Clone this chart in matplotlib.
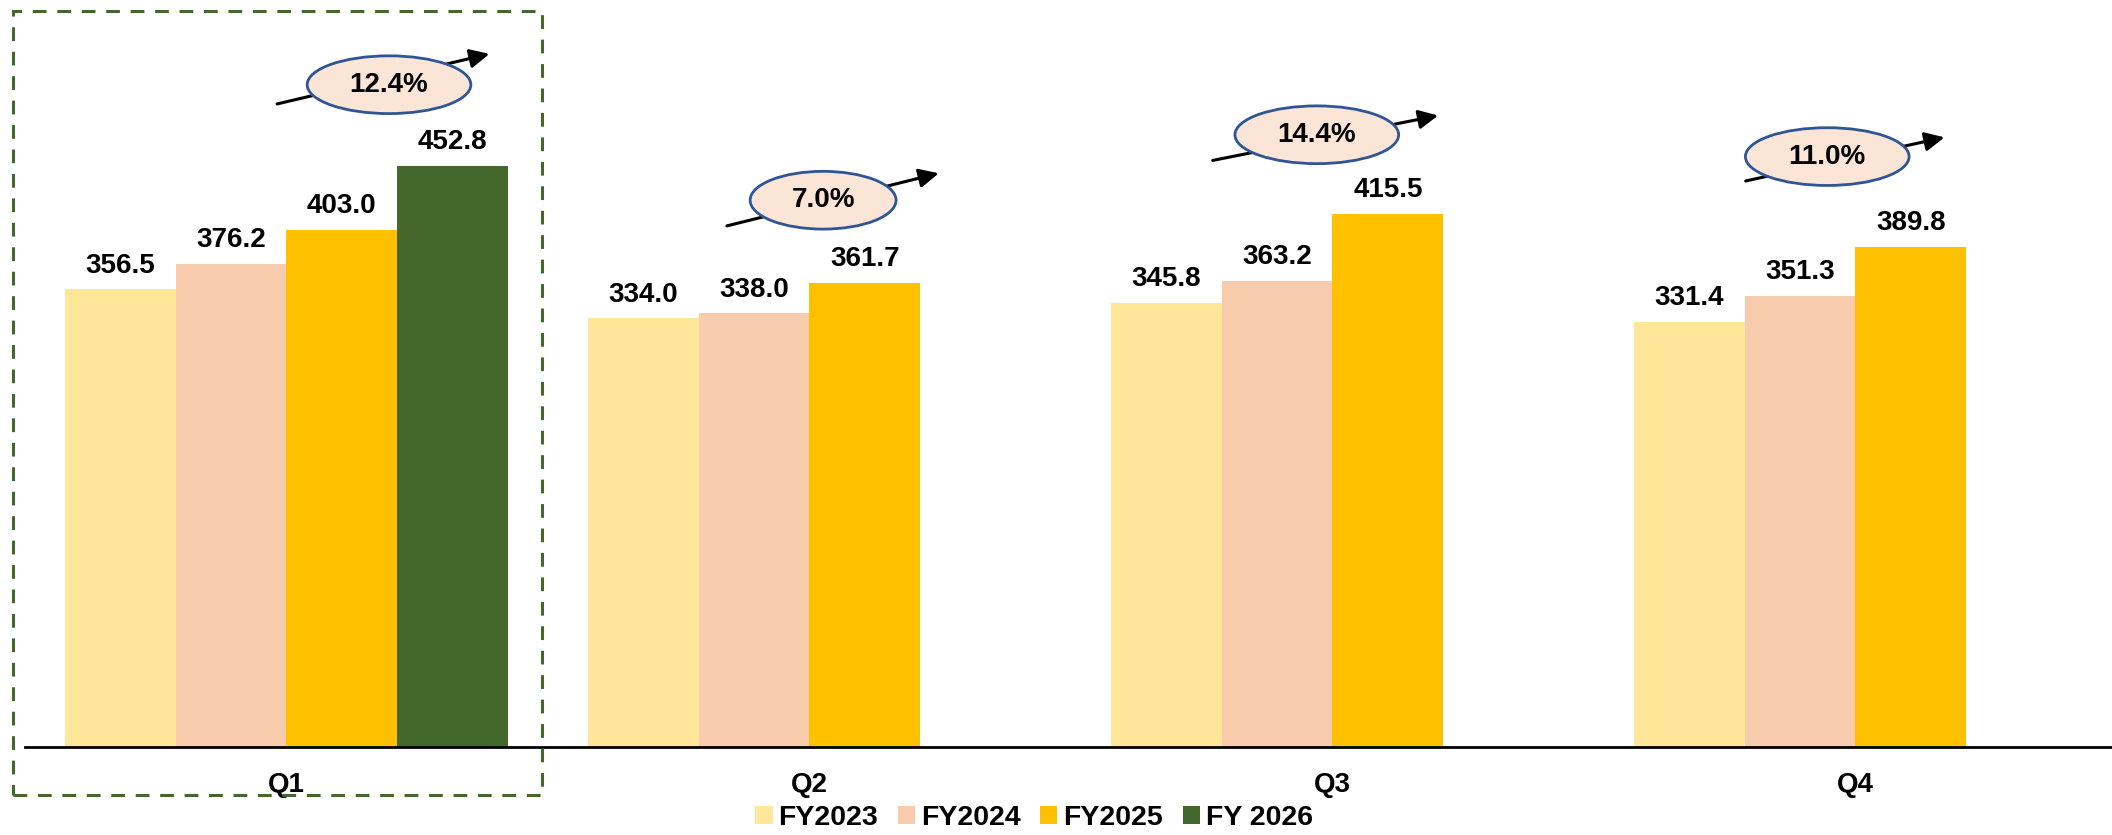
import matplotlib.pyplot as plt
import numpy as np
from matplotlib.patches import Ellipse, Rectangle

plt.rcParams['font.family'] = ['Liberation Sans', 'DejaVu Sans']

# Data
quarters = ["Q1", "Q2", "Q3", "Q4"]
series_names = ["FY2023", "FY2024", "FY2025", "FY 2026"]
fy2023 = [356.5, 334.0, 345.8, 331.4]
fy2024 = [376.2, 338.0, 363.2, 351.3]
fy2025 = [403.0, 361.7, 415.5, 389.8]
fy2026 = [452.8, np.nan, np.nan, np.nan]
growth = ["12.4%", "7.0%", "14.4%", "11.0%"]

colors = ["#FFE699", "#F8CBAD", "#FFC000", "#44682C"]

# growth badge layout (data coords): centre, width, arrow tail, arrow head
badge_x = [0.196, 1.026, 1.970, 2.946]
badge_y = [516, 426, 477, 460]
badge_w = [0.313, 0.279, 0.313, 0.313]
badge_h = 45
arrow_tail = [(-0.018, 501), (0.842, 406), (1.771, 457), (2.790, 441)]
arrow_head = [(0.388, 540), (1.247, 447), (2.202, 492), (3.170, 475)]

fig = plt.figure(figsize=(21.12, 8.35), dpi=100)
ax = fig.add_axes([25 / 2112, 88 / 835, 2092 / 2112, 747 / 835])

x = np.arange(len(quarters))
width = 0.2118
all_series = [fy2023, fy2024, fy2025, fy2026]
for i, (vals, name, c) in enumerate(zip(all_series, series_names, colors)):
    pos = x + (i - 1.5) * width
    ax.bar(pos, vals, width, color=c, label=name, zorder=2)
    for px, v in zip(pos, vals):
        if np.isnan(v):
            continue
        ax.annotate(f"{v:.1f}", (px, v), xytext=(0, 12), textcoords="offset points",
                    ha="center", va="baseline", fontsize=20, fontweight="bold")

# growth badges with arrows
for i in range(len(quarters)):
    ax.annotate("", xy=arrow_head[i], xytext=arrow_tail[i],
                arrowprops=dict(arrowstyle="-|>,head_length=0.45,head_width=0.22",
                                color="black", lw=2.2, mutation_scale=26,
                                shrinkA=0, shrinkB=0), zorder=3)
    ax.add_patch(Ellipse((badge_x[i], badge_y[i]), badge_w[i], badge_h,
                         facecolor="#FBE5D6", edgecolor="#2F5597", lw=2.0, zorder=4))
    ax.text(badge_x[i], badge_y[i], growth[i], ha="center", va="center",
            fontsize=20, fontweight="bold", zorder=5)

ax.set_xlim(-0.5, 3.5)
ax.set_ylim(0, 582)
ax.set_xticks(x)
ax.set_xticklabels(quarters, fontsize=20, fontweight="bold")
ax.tick_params(axis="x", length=0, pad=18)
ax.set_yticks([])
for s in ["top", "right", "left"]:
    ax.spines[s].set_visible(False)
ax.spines["bottom"].set_linewidth(2.0)
ax.spines["bottom"].set_zorder(3)

# dashed highlight box round Q1
fig.patches.append(Rectangle((13 / 2112, 1 - 795 / 835), (542 - 13) / 2112, (795 - 11) / 835,
                             transform=fig.transFigure, fill=False, edgecolor="#44682C",
                             lw=2.2, linestyle=(0, (4.5, 3.5))))

leg = fig.legend(loc="center", bbox_to_anchor=(1034 / 2112, 1 - 818 / 835), ncol=4,
                 frameon=False, handlelength=0.6, handleheight=0.6, handletextpad=0.2,
                 columnspacing=0.7, prop={"size": 20.5, "weight": "bold"})

plt.savefig("out.png", dpi=100)
